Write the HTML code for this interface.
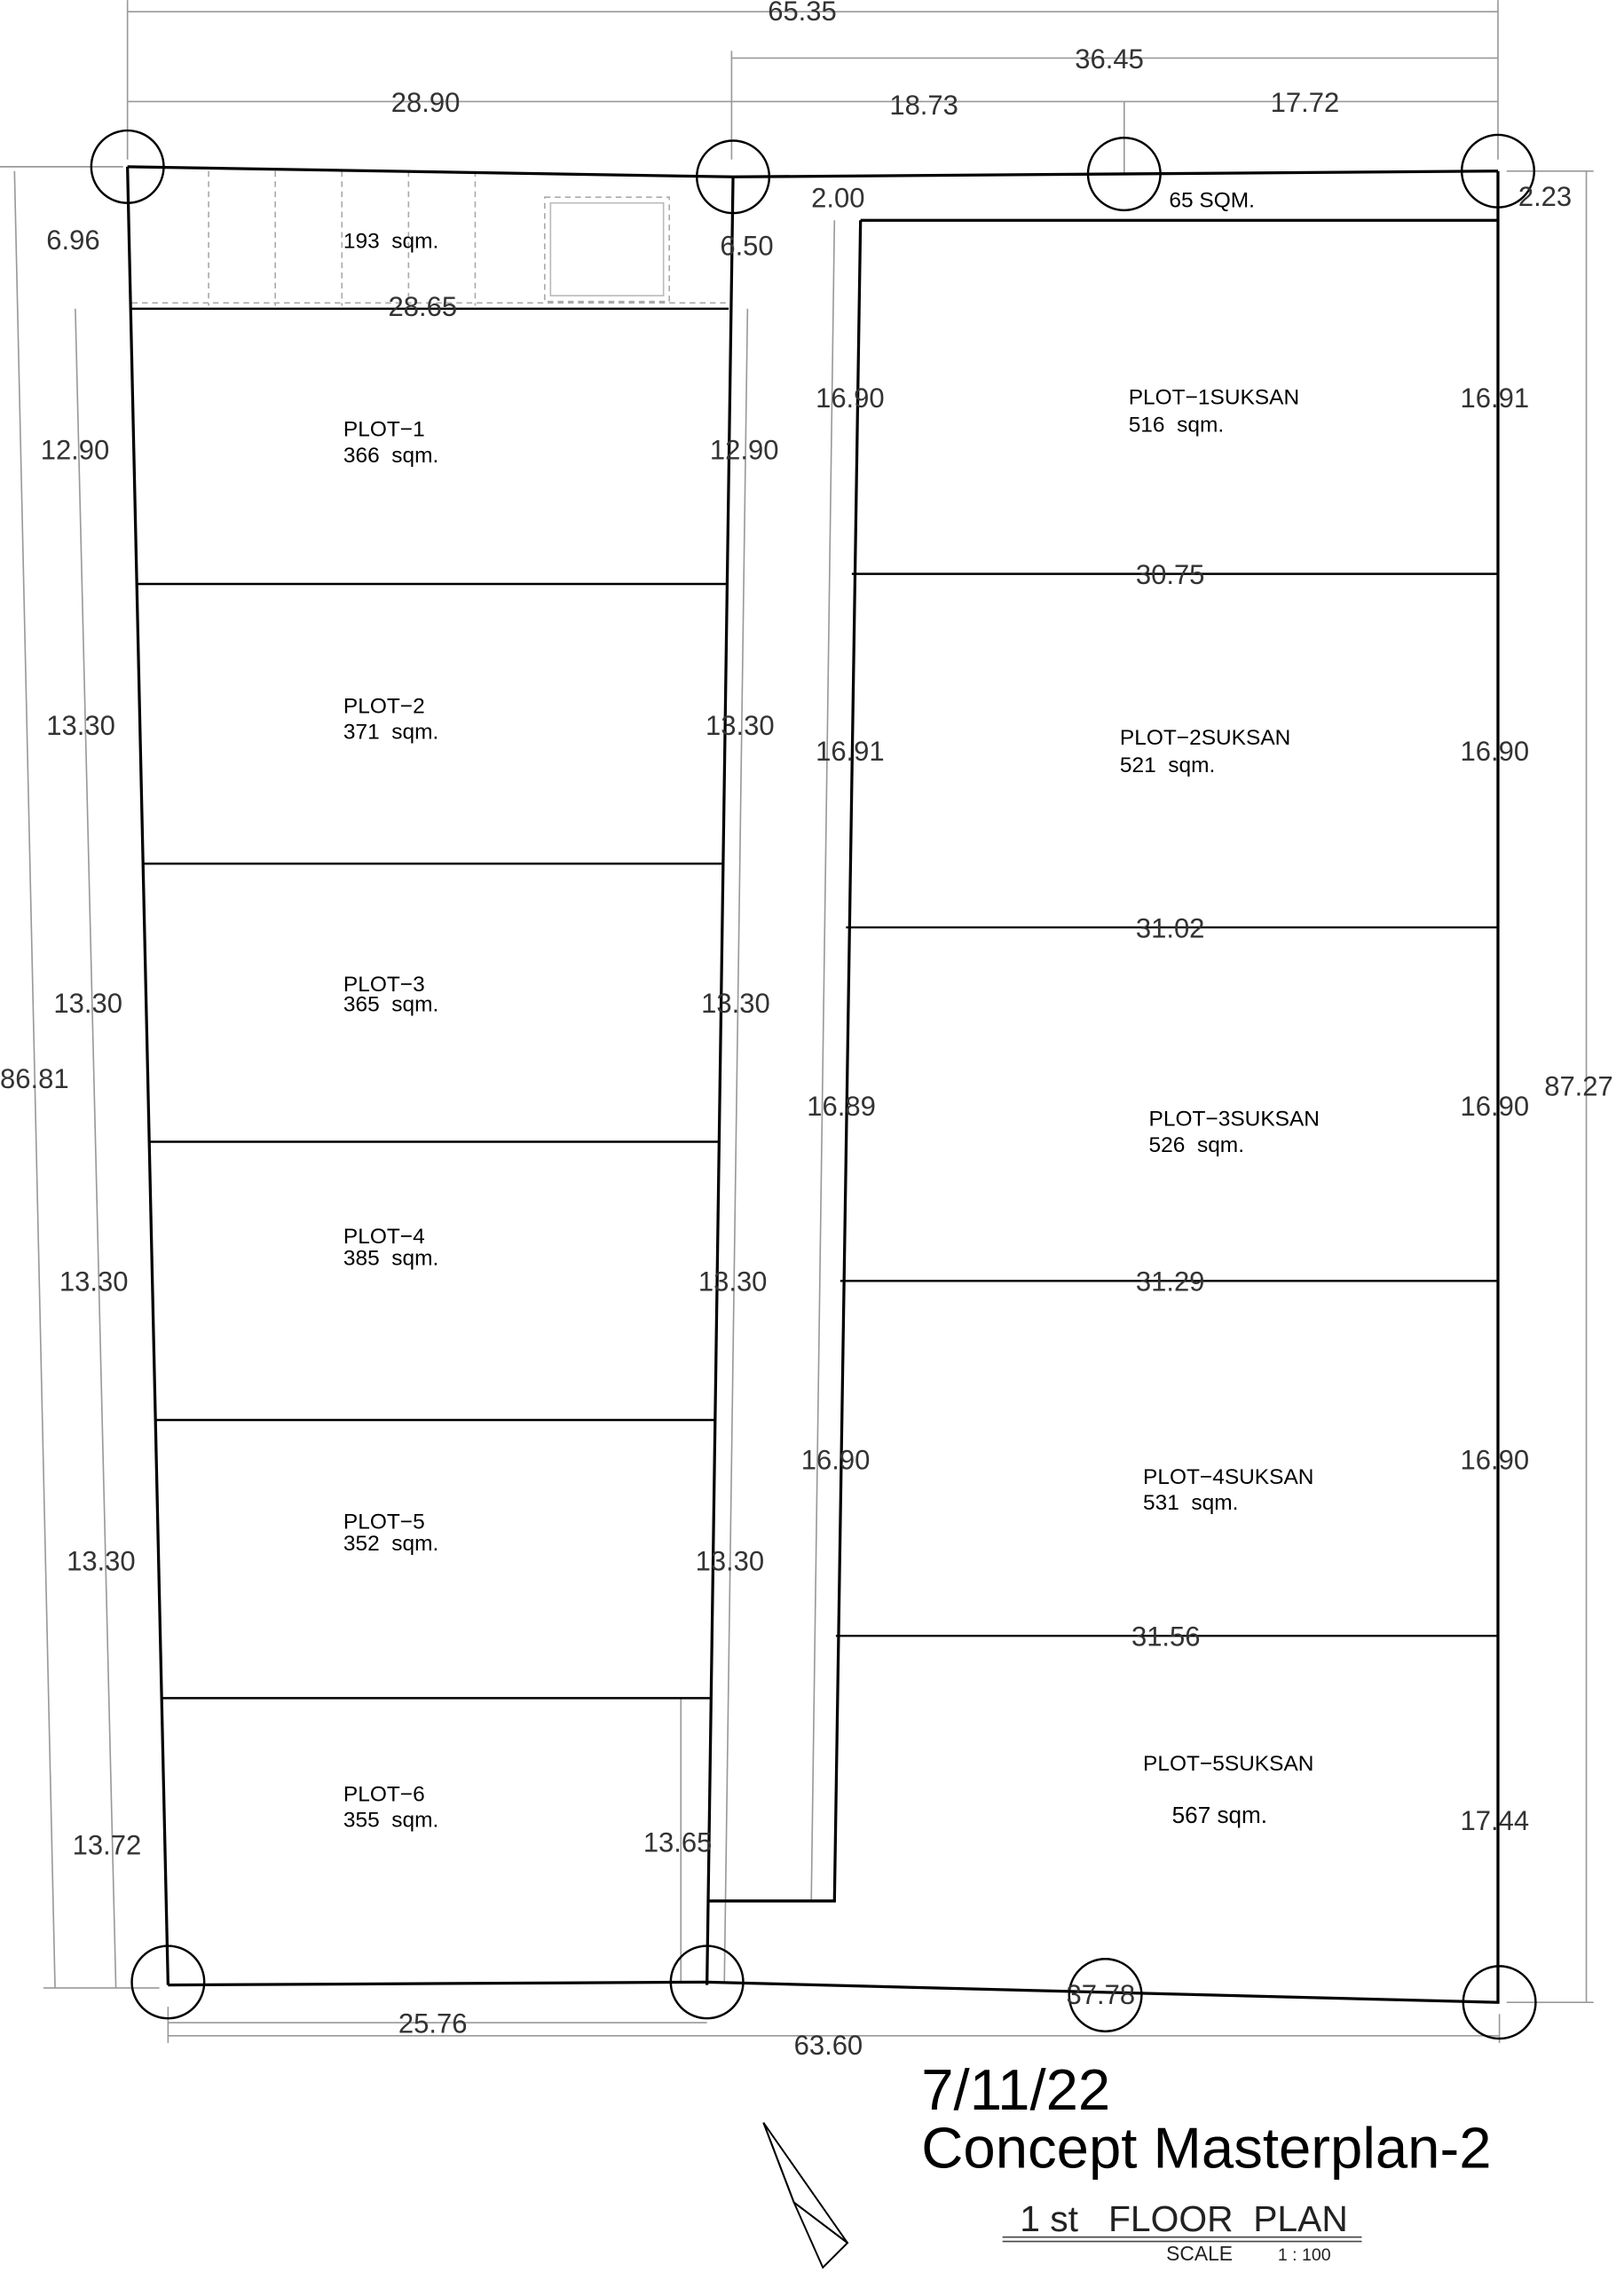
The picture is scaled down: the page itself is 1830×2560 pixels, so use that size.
<!DOCTYPE html>
<html><head><meta charset="utf-8"><style>
html,body{margin:0;padding:0;background:#fff;}
svg{display:block;}
text{font-family:"Liberation Sans",sans-serif;white-space:pre;}
</style></head><body>
<svg width="1830" height="2560" viewBox="0 0 1121 1568" xmlns="http://www.w3.org/2000/svg">
<rect width="1121" height="1568" fill="#fff"/>
<g stroke="#999" stroke-width="1" fill="none">
<line x1="88" y1="8" x2="1034" y2="8"/>
<line x1="88" y1="0" x2="88" y2="110"/><line x1="1034" y1="0" x2="1034" y2="110"/>
<line x1="505" y1="40" x2="1034" y2="40"/><line x1="505" y1="35" x2="505" y2="110"/>
<line x1="88" y1="70" x2="1034" y2="70"/><line x1="776" y1="70" x2="776" y2="120"/>
<line x1="10" y1="118" x2="38" y2="1372"/>
<line x1="0" y1="115" x2="85" y2="115"/><line x1="30" y1="1372" x2="110" y2="1372"/>
<line x1="52" y1="213" x2="80" y2="1372"/>
<line x1="1095" y1="118" x2="1095" y2="1382"/>
<line x1="1040" y1="118" x2="1100" y2="118"/><line x1="1040" y1="1382" x2="1100" y2="1382"/>
<line x1="116" y1="1405" x2="1035" y2="1405"/>
<line x1="116" y1="1385" x2="116" y2="1410"/><line x1="1035" y1="1390" x2="1035" y2="1410"/>
<line x1="116" y1="1396" x2="488" y2="1396"/>
<line x1="516" y1="213" x2="500" y2="1368"/>
<line x1="470" y1="1172" x2="470" y2="1368"/>
<line x1="576" y1="152" x2="560" y2="1312"/>
</g>
<g stroke="#aaa" stroke-width="1" stroke-dasharray="4,3" fill="none">
<line x1="144" y1="118" x2="144" y2="211"/><line x1="190" y1="118" x2="190" y2="211"/>
<line x1="236" y1="118" x2="236" y2="211"/><line x1="282" y1="118" x2="282" y2="211"/>
<line x1="328" y1="118" x2="328" y2="211"/>
<rect x="376" y="136" width="86" height="72"/>
<line x1="91" y1="209" x2="503" y2="209"/>
</g>
<rect x="380" y="140" width="78" height="64" fill="none" stroke="#bbb" stroke-width="1"/>
<g stroke="#000" stroke-width="2" fill="none">
<line x1="88" y1="115" x2="506" y2="122"/>
<line x1="88" y1="115" x2="116" y2="1370"/>
<line x1="506" y1="122" x2="488" y2="1370"/>
<line x1="116" y1="1370" x2="488" y2="1368"/>
<line x1="506" y1="122" x2="1034" y2="118"/>
<polyline points="1034,118 1034,1382"/>
<line x1="594" y1="152" x2="1034" y2="152"/>
<polyline points="594,152 576,1312 489,1312"/>
<line x1="488" y1="1368" x2="1035" y2="1382"/>
</g>
<g stroke="#000" stroke-width="1.5">
<line x1="91" y1="213" x2="503" y2="213"/>
<line x1="95" y1="403" x2="502" y2="403"/>
<line x1="99" y1="596" x2="499" y2="596"/>
<line x1="103" y1="788" x2="496" y2="788"/>
<line x1="108" y1="980" x2="494" y2="980"/>
<line x1="112" y1="1172" x2="490" y2="1172"/>
<line x1="588" y1="396" x2="1034" y2="396"/>
<line x1="584" y1="640" x2="1034" y2="640"/>
<line x1="580" y1="884" x2="1034" y2="884"/>
<line x1="577" y1="1129" x2="1034" y2="1129"/>
</g>
<g stroke="#000" stroke-width="1.5" fill="none">
<circle cx="88" cy="115" r="25"/><circle cx="506" cy="122" r="25"/>
<circle cx="776" cy="120" r="25"/><circle cx="1034" cy="118" r="25"/>
<circle cx="116" cy="1368" r="25"/><circle cx="488" cy="1368" r="25"/>
<circle cx="763" cy="1377" r="25"/><circle cx="1035" cy="1382" r="25"/>
</g>
<g font-size="19" fill="#333">
<text x="530" y="14">65.35</text>
<text x="742" y="47">36.45</text>
<text x="270" y="77">28.90</text>
<text x="614" y="79">18.73</text>
<text x="877" y="77">17.72</text>
<text x="560" y="143">2.00</text>
<text x="1048" y="142">2.23</text>
<text x="32" y="172">6.96</text>
<text x="497" y="176">6.50</text>
<text x="268" y="218">28.65</text>
<text x="28" y="317">12.90</text>
<text x="490" y="317">12.90</text>
<text x="32" y="507">13.30</text>
<text x="487" y="507">13.30</text>
<text x="37" y="699">13.30</text>
<text x="484" y="699">13.30</text>
<text x="41" y="891">13.30</text>
<text x="482" y="891">13.30</text>
<text x="46" y="1084">13.30</text>
<text x="480" y="1084">13.30</text>
<text x="50" y="1280">13.72</text>
<text x="444" y="1278">13.65</text>
<text x="0" y="751">86.81</text>
<text x="1066" y="756">87.27</text>
<text x="563" y="281">16.90</text>
<text x="1008" y="281">16.91</text>
<text x="563" y="525">16.91</text>
<text x="1008" y="525">16.90</text>
<text x="557" y="770">16.89</text>
<text x="1008" y="770">16.90</text>
<text x="553" y="1014">16.90</text>
<text x="1008" y="1014">16.90</text>
<text x="1008" y="1263">17.44</text>
<text x="784" y="403">30.75</text>
<text x="784" y="647">31.02</text>
<text x="784" y="891">31.29</text>
<text x="781" y="1136">31.56</text>
<text x="736" y="1383">37.78</text>
<text x="275" y="1403">25.76</text>
<text x="548" y="1418">63.60</text>
</g>
<g font-size="15" fill="#000">
<text x="237" y="171">193  sqm.</text>
<text x="807" y="143">65 SQM.</text>
<text x="237" y="301">PLOT−1</text><text x="237" y="319">366  sqm.</text>
<text x="237" y="492">PLOT−2</text><text x="237" y="510">371  sqm.</text>
<text x="237" y="684">PLOT−3</text><text x="237" y="698">365  sqm.</text>
<text x="237" y="858">PLOT−4</text><text x="237" y="873">385  sqm.</text>
<text x="237" y="1055">PLOT−5</text><text x="237" y="1070">352  sqm.</text>
<text x="237" y="1243">PLOT−6</text><text x="237" y="1261">355  sqm.</text>
<text x="779" y="279">PLOT−1SUKSAN</text><text x="779" y="298">516  sqm.</text>
<text x="773" y="514">PLOT−2SUKSAN</text><text x="773" y="533">521  sqm.</text>
<text x="793" y="777">PLOT−3SUKSAN</text><text x="793" y="795">526  sqm.</text>
<text x="789" y="1024">PLOT−4SUKSAN</text><text x="789" y="1042">531  sqm.</text>
<text x="789" y="1222">PLOT−5SUKSAN</text><text x="809" y="1258" font-size="16">567 sqm.</text>
</g>
<text x="636" y="1456" font-size="40" fill="#000">7/11/22</text>
<text x="636" y="1496" font-size="40" fill="#000">Concept Masterplan-2</text>
<text x="704" y="1540" font-size="25" fill="#222">1 st   FLOOR  PLAN</text>
<line x1="692" y1="1544" x2="940" y2="1544" stroke="#444"/>
<line x1="692" y1="1547" x2="940" y2="1547" stroke="#444"/>
<text x="805" y="1560" font-size="14" fill="#222">SCALE</text>
<text x="882" y="1560" font-size="12" fill="#222">1 : 100</text>
<g stroke="#000" stroke-width="1.2" fill="none">
<polygon points="527,1465 585,1548 548,1520"/>
<polygon points="548,1520 585,1548 568,1565"/>
<line x1="527" y1="1465" x2="548" y2="1520"/>
</g>
</svg>
</body></html>
